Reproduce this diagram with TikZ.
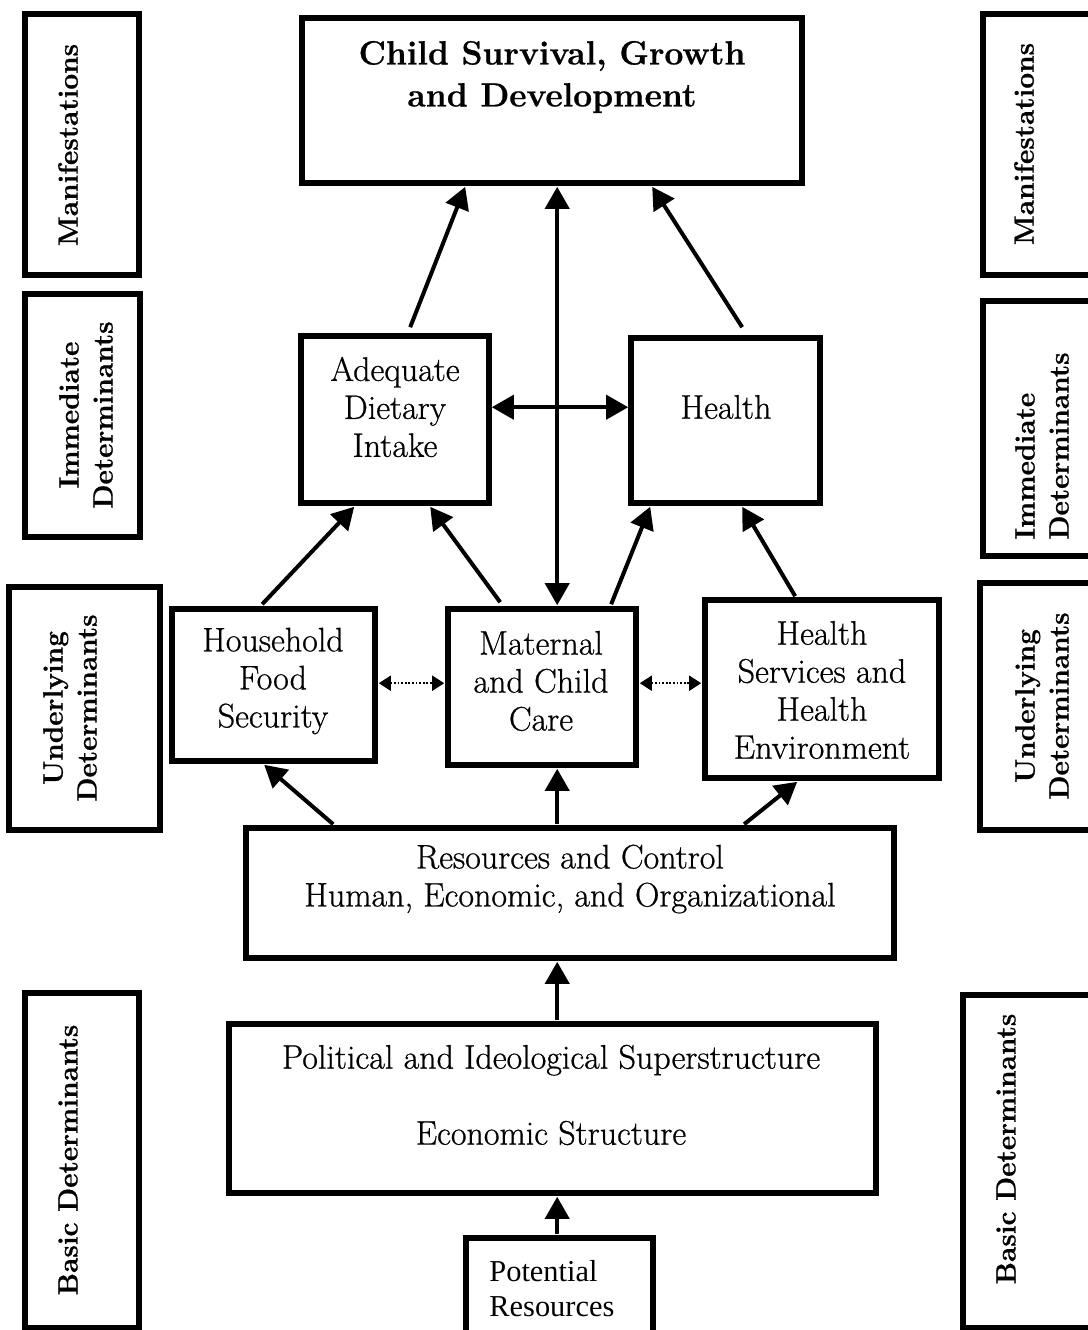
\documentclass[tikz,border=0pt]{standalone}
\usepackage{fontspec}
\setmainfont{Latin Modern Roman}[FakeBold=0.7]
\newfontfamily\timesf{Liberation Serif}
\newfontfamily\ttlf{Latin Modern Roman}[FakeBold=0.3]
\usetikzlibrary{arrows.meta,calc}
\begin{document}
\begin{tikzpicture}[x=0.5pt,y=-0.5pt,
  box/.style={draw, line width=2.8pt, inner sep=0pt},
  side/.style={font=\fontsize{14}{17}\selectfont\bfseries, rotate=90, align=center, inner sep=0pt},
  txt/.style={font=\fontsize{17}{19}\selectfont, align=center, inner sep=0pt},
  ttl/.style={font=\fontsize{16.8}{21}\selectfont\bfseries, align=center, inner sep=0pt},
  arr/.style={line width=2pt, -{Triangle[length=11pt,width=12pt]}},
  darr/.style={line width=2pt, {Triangle[length=11pt,width=12pt]}-{Triangle[length=11pt,width=12pt]}},
  dotarr/.style={line width=0.9pt, dash pattern={on 0.9pt off 0.9pt}, {Triangle[length=6pt,width=7.5pt]}-{Triangle[length=6pt,width=7.5pt]}},
]
\useasboundingbox (0,0) rectangle (1088,1330);
\fill[white] (0,0) rectangle (1088,1330);

% side boxes
\node[box, minimum width=57pt, minimum height=130.5pt] (lm) at (82,144.5) {};
\node[box, minimum width=57.5pt, minimum height=121.5pt] (li) at (82.5,415.5) {};
\node[box, minimum width=75.5pt, minimum height=121.5pt] (lu) at (84.5,708.5) {};
\node[box, minimum width=57pt, minimum height=167.5pt] (lb) at (82,1160.5) {};
\node[box, minimum width=58.5pt, minimum height=130.5pt] (rm) at (1041.5,144.5) {};
\node[box, minimum width=58.5pt, minimum height=127.5pt] (ri) at (1041.5,428.5) {};
\node[box, minimum width=60pt, minimum height=123.5pt] (ru) at (1040,706.5) {};
\node[box, minimum width=68.5pt, minimum height=166.5pt] (rb) at (1031.5,1161.5) {};

\node[side] (lmt) at (68,145) {Manifestations};
\node[side] (lit) at (86,415) {Immediate\\Determinants};
\node[side] (lut) at (70,708) {Underlying\\Determinants};
\node[side] (lbt) at (68,1160) {Basic Determinants};
\node[side] (rmt) at (1024,144) {Manifestations};
\node[side, align=left, anchor=west] (rit) at (1042,540) {Immediate\\Determinants};
\node[side] (rut) at (1042,706) {Underlying\\Determinants};
\node[side] (rbt) at (1006,1149) {Basic Determinants};

% main boxes
\node[box, minimum width=250pt, minimum height=82.5pt] (child) at (552,100.5) {};
\node[box, minimum width=94pt, minimum height=83.5pt] (adi) at (395,419.5) {};
\node[box, minimum width=94.5pt, minimum height=82.5pt] (hl) at (725.5,420.5) {};
\node[box, minimum width=101.5pt, minimum height=76pt] (hfs) at (273.5,685) {};
\node[box, minimum width=94pt, minimum height=78pt] (mcc) at (542,687) {};
\node[box, minimum width=117pt, minimum height=89pt] (hs) at (822,689) {};
\node[box, minimum width=324pt, minimum height=65pt] (rc) at (570,893) {};
\node[box, minimum width=323.5pt, minimum height=84.5pt] (pis) at (552.5,1108.5) {};
\node[box, minimum width=93.5pt, minimum height=53.5pt] (pr) at (559.5,1291.5) {};

% texts
\node[ttl] (childt) at (552,77) {Child Survival, Growth\\and Development};
\node[txt] (adit) at (395,407) {Adequate\\Dietary\\Intake};
\node[txt] (hlt) at (726,407) {Health};
\node[txt] (hfst) at (273,681) {Household\\Food\\Security};
\node[txt] (mcct) at (541,681) {Maternal\\and Child\\Care};
\node[txt] (hst) at (822,690) {Health\\Services and\\Health\\Environment};
\node[txt] (rct) at (570,879) {Resources and Control\\Human, Economic, and Organizational};
\node[txt] (pist) at (551,1095) {Political and Ideological Superstructure\\[19pt]Economic Structure};
\node[txt, font=\timesf\fontsize{15.2}{17.5}\selectfont, align=left, anchor=west] (prt) at (489,1289) {Potential\\Resources};

% connectors
\draw[arr] ($(adi.north west)+(112,-6)$) -- ($(child.south west)+(166,1)$);
\draw[darr] ($(child.south west)+(258,1)$) -- ($(mcc.north west)+(112,-1)$);
\draw[arr] ($(hl.north west)+(114,-8)$) -- ($(child.south west)+(353,1)$);
\draw[darr] ($(adi.north east)+(0,74)$) -- ($(hl.north west)+(0,72)$);
\draw[arr] ($(hfs.north west)+(93,-2)$) -- ($(adi.south west)+(56,1)$);
\draw[arr] ($(mcc.north west)+(55,-4)$) -- ($(adi.south west)+(132,1)$);
\draw[arr] ($(mcc.north west)+(166,-2)$) -- ($(hl.south west)+(22,1)$);
\draw[arr] ($(hs.north west)+(93,-1)$) -- ($(hl.south west)+(114,1)$);
\draw[dotarr] ($(hfs.north east)+(1,77)$) -- ($(mcc.north west)+(-1,77)$);
\draw[dotarr] ($(mcc.north east)+(1,77)$) -- ($(hs.north west)+(-1,86)$);
\draw[arr] ($(rc.north west)+(90,-1)$) -- ($(hfs.south west)+(95,1)$);
\draw[arr] ($(rc.north west)+(314,-1)$) -- ($(mcc.south west)+(112,1)$);
\draw[arr] ($(rc.north west)+(501,-1)$) -- ($(hs.south west)+(95,1)$);
\draw[arr] ($(pis.north west)+(331,-1)$) -- ($(rc.south west)+(314,1)$);
\draw[arr] ($(pr.north west)+(94,-1)$) -- ($(pis.south west)+(331,1)$);
\end{tikzpicture}
\end{document}
